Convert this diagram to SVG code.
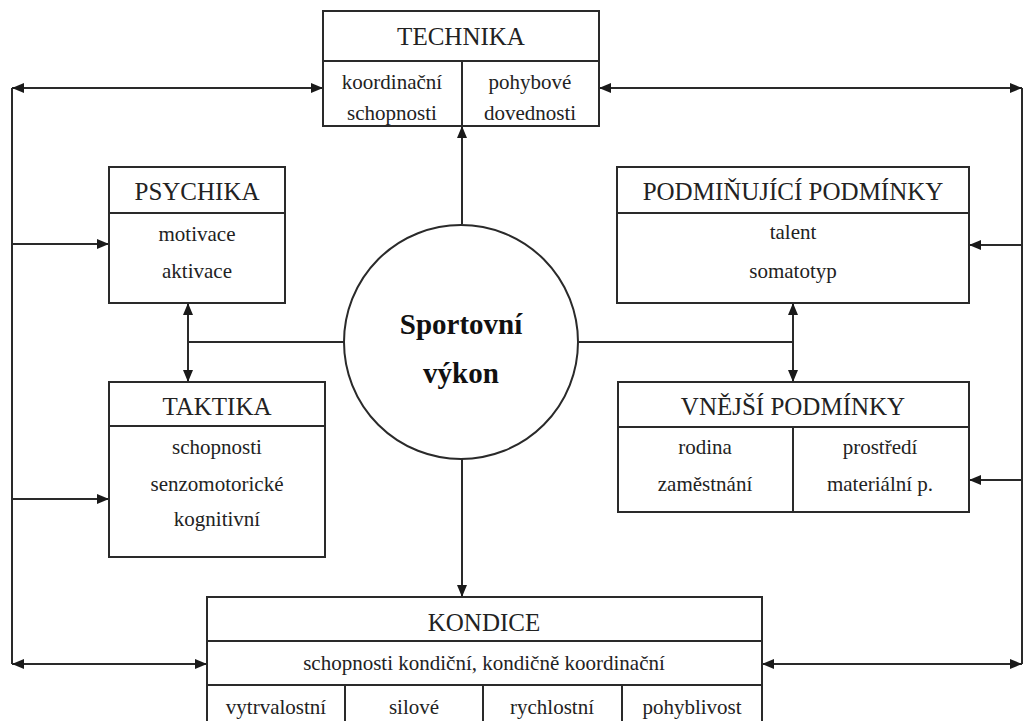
<svg xmlns="http://www.w3.org/2000/svg" width="1025" height="721" viewBox="0 0 1025 721">
<style>
.box{fill:#fff;stroke:#2a2a2a;stroke-width:2}
.ln{fill:none;stroke:#2a2a2a;stroke-width:2}
.t{font-size:25px;fill:#222;text-anchor:middle}
.b{font-size:21px;fill:#222;text-anchor:middle}
.c{font-size:29px;font-weight:bold;fill:#111;text-anchor:middle}
</style>
<defs>
<marker id="ah" viewBox="0 0 12 10" refX="12" refY="5" markerWidth="12" markerHeight="10" markerUnits="userSpaceOnUse" orient="auto-start-reverse">
<path d="M0,0 L12,5 L0,10 z" fill="#1a1a1a"/>
</marker>
</defs>
<rect width="1025" height="721" fill="#fff"/>
<g id="connectors">
<path class="ln" d="M12,88 V664"/>
<path class="ln" d="M1022,88 V664"/>
<path class="ln" d="M12,88 H323" marker-start="url(#ah)" marker-end="url(#ah)"/>
<path class="ln" d="M599,88 H1022" marker-start="url(#ah)" marker-end="url(#ah)"/>
<path class="ln" d="M12,244 H109" marker-end="url(#ah)"/>
<path class="ln" d="M12,499 H109" marker-end="url(#ah)"/>
<path class="ln" d="M12,664 H207" marker-start="url(#ah)" marker-end="url(#ah)"/>
<path class="ln" d="M762,664 H1022" marker-start="url(#ah)" marker-end="url(#ah)"/>
<path class="ln" d="M1022,245 H969" marker-end="url(#ah)"/>
<path class="ln" d="M1022,480 H969" marker-end="url(#ah)"/>
<path class="ln" d="M462,224 V126" marker-end="url(#ah)"/>
<path class="ln" d="M462,459 V597" marker-end="url(#ah)"/>
<path class="ln" d="M344,342 H188"/>
<path class="ln" d="M188,303 V382" marker-start="url(#ah)" marker-end="url(#ah)"/>
<path class="ln" d="M579,342 H793"/>
<path class="ln" d="M793,303 V382" marker-start="url(#ah)" marker-end="url(#ah)"/>
</g>
<g id="technika">
<rect class="box" x="323" y="11" width="276" height="115"/>
<path class="ln" d="M323,61 H599 M462,61 V126"/>
<text class="t" font-family="Liberation Serif, serif" x="461" y="45">TECHNIKA</text>
<text class="b" font-family="Liberation Serif, serif" x="392" y="89">koordinační</text>
<text class="b" font-family="Liberation Serif, serif" x="392" y="120">schopnosti</text>
<text class="b" font-family="Liberation Serif, serif" x="530" y="89">pohybové</text>
<text class="b" font-family="Liberation Serif, serif" x="530" y="120">dovednosti</text>
</g>
<g id="psychika">
<rect class="box" x="109" y="167" width="176" height="136"/>
<path class="ln" d="M109,213 H285"/>
<text class="t" font-family="Liberation Serif, serif" x="197" y="200">PSYCHIKA</text>
<text class="b" font-family="Liberation Serif, serif" x="197" y="241">motivace</text>
<text class="b" font-family="Liberation Serif, serif" x="197" y="278">aktivace</text>
</g>
<g id="podminujici">
<rect class="box" x="617" y="167" width="352" height="136"/>
<path class="ln" d="M617,213 H969"/>
<text class="t" font-family="Liberation Serif, serif" x="793" y="200">PODMIŇUJÍCÍ PODMÍNKY</text>
<text class="b" font-family="Liberation Serif, serif" x="793" y="239">talent</text>
<text class="b" font-family="Liberation Serif, serif" x="793" y="278">somatotyp</text>
</g>
<g id="taktika">
<rect class="box" x="109" y="382" width="216" height="175"/>
<path class="ln" d="M109,426 H325"/>
<text class="t" font-family="Liberation Serif, serif" x="217" y="415">TAKTIKA</text>
<text class="b" font-family="Liberation Serif, serif" x="217" y="454">schopnosti</text>
<text class="b" font-family="Liberation Serif, serif" x="217" y="491">senzomotorické</text>
<text class="b" font-family="Liberation Serif, serif" x="217" y="526">kognitivní</text>
</g>
<g id="vnejsi">
<rect class="box" x="618" y="382" width="351" height="130"/>
<path class="ln" d="M618,427 H969 M793,427 V512"/>
<text class="t" font-family="Liberation Serif, serif" x="793" y="415">VNĚJŠÍ PODMÍNKY</text>
<text class="b" font-family="Liberation Serif, serif" x="705" y="454">rodina</text>
<text class="b" font-family="Liberation Serif, serif" x="705" y="491">zaměstnání</text>
<text class="b" font-family="Liberation Serif, serif" x="880" y="454">prostředí</text>
<text class="b" font-family="Liberation Serif, serif" x="880" y="491">materiální p.</text>
</g>
<g id="sportovni-vykon">
<circle cx="461" cy="342" r="117" fill="#fff" stroke="#2a2a2a" stroke-width="2"/>
<text class="c" font-family="Liberation Serif, serif" x="461" y="334">Sportovní</text>
<text class="c" font-family="Liberation Serif, serif" x="461" y="383">výkon</text>
</g>
<g id="kondice">
<rect class="box" x="207" y="597" width="555" height="140"/>
<path class="ln" d="M207,641 H762 M207,685 H762 M345,685 V737 M483,685 V737 M622,685 V737"/>
<text class="t" font-family="Liberation Serif, serif" x="484" y="631">KONDICE</text>
<text class="b" font-family="Liberation Serif, serif" x="484" y="670">schopnosti kondiční, kondičně koordinační</text>
<text class="b" font-family="Liberation Serif, serif" x="276" y="714">vytrvalostní</text>
<text class="b" font-family="Liberation Serif, serif" x="414" y="714">silové</text>
<text class="b" font-family="Liberation Serif, serif" x="552" y="714">rychlostní</text>
<text class="b" font-family="Liberation Serif, serif" x="692" y="714">pohyblivost</text>
</g>
</svg>
